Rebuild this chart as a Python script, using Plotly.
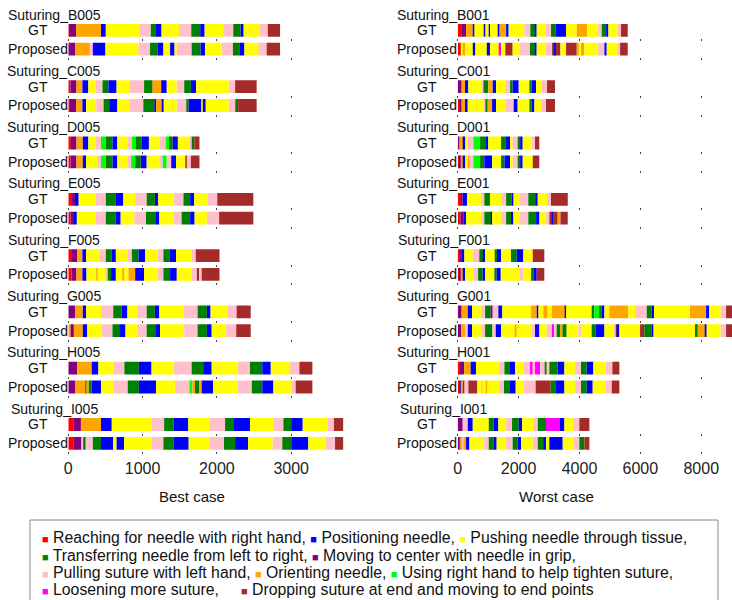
import plotly.graph_objects as go

W, H = 732, 600
FONT = "Liberation Sans, Arial, sans-serif"

# Gesture classes: code -> colour and name
COLOR = {
    "R": "#ff0000", "B": "#0000ff", "Y": "#ffff00", "G": "#008000", "P": "#800080",
    "K": "#ffc0cb", "O": "#ffa500", "L": "#00ff00", "M": "#ff00ff", "W": "#a52a2a",
}
NAMES = {
    "R": "Reaching for needle with right hand",
    "B": "Positioning needle",
    "Y": "Pushing needle through tissue",
    "G": "Transferring needle from left to right",
    "P": "Moving to center with needle in grip",
    "K": "Pulling suture with left hand",
    "O": "Orienting needle",
    "L": "Using right hand to help tighten suture",
    "M": "Loosening more suture",
    "W": "Dropping suture at end and moving to end points",
}

# ---- Best case trials: gesture labels and segment end frames ----
B005_GT_LABELS = ["R","P","O","B","Y","K","G","B","Y","K","G","B","Y","K","G","B","Y","K","W"]
B005_GT_ENDS = [15,105,440,505,955,1110,1180,1255,1490,1655,1775,1835,2085,2220,2320,2360,2580,2685,2850]
B005_PR_LABELS = ["P","O","K","B","Y","K","G","B","Y","B","Y","K","G","B","Y","K","G","B","Y","K","W"]
B005_PR_ENDS = [90,290,330,500,945,1100,1200,1280,1370,1430,1460,1660,1780,1840,2065,2215,2310,2370,2560,2670,2850]

C005_GT_LABELS = ["R","P","O","B","Y","K","G","B","Y","K","G","O","B","Y","K","G","B","Y","K","W"]
C005_GT_ENDS = [30,110,190,270,370,460,540,650,830,1020,1135,1250,1325,1460,1560,1650,1720,2160,2245,2535]
C005_PR_LABELS = ["R","P","O","B","Y","K","G","B","Y","K","G","B","O","B","Y","K","G","B","Y","B","Y","K","G","W"]
C005_PR_ENDS = [20,105,190,240,375,475,550,660,830,1010,1160,1180,1255,1285,1460,1595,1620,1795,1810,1850,2160,2260,2285,2535]

D005_GT_LABELS = ["R","P","O","B","Y","K","L","G","B","Y","K","L","G","B","Y","K","L","G","B","Y","K","G","W"]
D005_GT_ENDS = [35,110,195,270,370,440,505,595,660,800,855,905,990,1085,1225,1310,1355,1405,1475,1640,1660,1695,1765]
D005_PR_LABELS = ["R","P","O","B","Y","K","L","G","B","Y","K","L","G","B","Y","K","L","K","B","Y","W","K","W"]
D005_PR_ENDS = [30,110,195,240,390,440,505,595,660,800,845,900,975,1055,1225,1270,1325,1385,1450,1575,1595,1650,1765]

E005_GT_LABELS = ["R","P","B","Y","K","G","B","Y","K","G","B","Y","K","G","B","Y","K","W"]
E005_GT_ENDS = [50,90,140,370,505,640,740,900,1055,1165,1210,1415,1550,1640,1695,1870,2005,2490]
E005_PR_LABELS = ["R","P","B","Y","K","G","B","Y","K","G","B","Y","K","G","B","Y","K","W"]
E005_PR_ENDS = [30,65,115,370,505,640,705,890,1045,1170,1225,1415,1525,1640,1700,1865,2030,2490]

F005_GT_LABELS = ["R","P","O","B","Y","K","G","B","Y","K","G","B","Y","K","G","B","Y","K","W"]
F005_GT_ENDS = [50,120,190,240,425,505,585,640,795,855,945,1035,1205,1280,1360,1450,1660,1715,2035]
F005_PR_LABELS = ["R","P","O","B","Y","O","Y","K","G","B","Y","O","Y","O","B","Y","K","G","B","Y","K","W","K","W"]
F005_PR_ENDS = [45,110,190,245,380,395,505,530,575,640,740,755,810,900,1020,1205,1280,1370,1460,1660,1730,1760,1795,2035]

G005_GT_LABELS = ["P","O","B","Y","K","G","B","Y","K","G","B","Y","K","G","B","Y","K","W"]
G005_GT_ENDS = [90,195,240,440,605,720,795,930,1055,1165,1225,1550,1740,1865,1915,2140,2265,2455]
G005_PR_LABELS = ["O","P","O","B","Y","K","G","B","Y","K","G","B","Y","K","G","B","Y","K","W"]
G005_PR_ENDS = [30,75,195,255,450,595,685,770,930,1055,1170,1235,1560,1740,1865,1930,2125,2260,2455]

H005_GT_LABELS = ["P","O","B","Y","K","G","B","Y","K","G","B","Y","K","G","B","Y","K","W"]
H005_GT_ENDS = [120,315,405,615,755,950,1120,1420,1660,1815,1930,2280,2445,2610,2725,2985,3110,3285]
H005_PR_LABELS = ["P","O","G","O","G","B","Y","K","G","B","Y","K","L","O","G","O","B","Y","K","G","B","Y","K","W"]
H005_PR_ENDS = [90,235,250,275,315,440,615,800,950,1180,1435,1630,1670,1705,1765,1795,1950,2280,2470,2610,2760,3000,3060,3285]

I005_GT_LABELS = ["R","P","O","B","Y","K","G","B","Y","K","G","B","Y","K","G","B","Y","K","W"]
I005_GT_ENDS = [75,170,440,585,1120,1290,1415,1615,1900,2110,2230,2445,2760,2895,3000,3155,3485,3575,3700]
I005_PR_LABELS = ["R","P","K","G","K","G","B","Y","B","Y","K","G","B","Y","K","G","B","Y","K","G","B","Y","K","W"]
I005_PR_ENDS = [75,180,200,235,330,440,605,650,750,1120,1280,1420,1620,1900,2095,2245,2420,2750,2880,3000,3230,3465,3590,3700]

# ---- Worst case trials ----
B001_GT_LABELS = ["R","P","O","B","Y","B","Y","B","Y","B","O","B","Y","K","G","B","Y","K","G","B","Y","O","Y","K","G","B","Y","K","W"]
B001_GT_ENDS = [140,275,495,550,875,910,1020,1060,1315,1370,1590,1675,2190,2385,2550,2595,2900,3065,3210,3560,3910,4250,4620,4730,4875,4950,5255,5365,5585]
B001_PR_LABELS = ["R","Y","O","Y","B","Y","B","Y","M","Y","W","Y","K","G","B","Y","K","W","B","W","Y","W","O","Y","O","Y","K","B","Y","K","W"]
B001_PR_ENDS = [130,185,250,495,580,955,1060,1370,1425,1565,1805,2050,2375,2540,2595,2900,3100,3185,3230,3375,3560,3910,4000,4050,4160,4620,4820,4895,5280,5335,5585]

C001_GT_LABELS = ["P","O","B","Y","K","G","O","B","Y","K","G","B","Y","G","B","Y","K","W"]
C001_GT_ENDS = [130,240,350,800,845,1005,1150,1260,1565,1720,1805,2005,2355,2430,2575,2760,2935,3195]
C001_PR_LABELS = ["R","P","O","B","Y","K","G","O","B","Y","K","B","Y","G","B","Y","K","W"]
C001_PR_ENDS = [75,130,240,330,875,910,985,1130,1260,1565,1840,1970,2355,2430,2520,2740,2900,3195]

D001_GT_LABELS = ["P","O","B","Y","K","L","G","B","Y","G","B","Y","K","G","B","Y","K","W"]
D001_GT_ENDS = [55,195,250,330,515,735,930,1005,1425,1565,1720,1805,1970,2050,2135,2430,2540,2680]
D001_PR_LABELS = ["R","P","O","B","Y","O","K","L","G","B","Y","G","B","Y","K","G","B","Y","W"]
D001_PR_ENDS = [65,130,185,250,330,385,515,735,875,1130,1425,1535,1720,1805,1970,2050,2135,2465,2680]

E001_GT_LABELS = ["R","P","B","Y","K","G","Y","K","G","B","Y","K","G","B","Y","K","W"]
E001_GT_ENDS = [110,165,305,765,875,1060,1425,1590,1775,1830,2025,2320,2575,2630,2935,3065,3615]
E001_PR_LABELS = ["R","P","B","Y","K","G","B","Y","K","G","B","Y","K","G","B","Y","K","W","B","W","O","W"]
E001_PR_ENDS = [90,185,275,765,875,1095,1130,1425,1590,1750,1830,2050,2320,2575,2685,2900,3010,3120,3155,3285,3375,3615]

F001_GT_LABELS = ["R","P","B","Y","K","G","B","Y","G","B","Y","G","B","Y","W"]
F001_GT_ENDS = [75,140,220,495,710,845,900,1225,1290,1425,1750,1940,2155,2465,2845]
F001_PR_LABELS = ["R","P","O","B","Y","K","G","B","Y","G","B","Y","K","Y","G","B","W"]
F001_PR_ENDS = [65,130,175,240,515,670,820,900,1205,1280,1415,2025,2155,2410,2485,2595,2845]

G001_GT_LABELS = ["P","O","B","Y","K","G","P","K","B","Y","O","B","Y","O","Y","O","B","Y","G","L","G","B","Y","O","Y","K","G","B","Y","O","B","Y","K","W"]
G001_GT_ENDS = [130,330,470,765,900,1085,1150,1335,1465,2410,2595,2650,2815,2955,3090,3525,3560,4400,4490,4645,4730,4820,4980,5605,5825,6210,6375,6450,7630,8160,8255,8640,8815,9035]
G001_PR_LABELS = ["P","O","K","B","Y","K","G","K","B","Y","O","Y","K","B","Y","K","M","K","G","O","G","Y","K","Y","G","B","Y","K","W","B","Y","W","G","B","Y","G","O","B","Y","K","W"]
G001_PR_ENDS = [110,240,330,470,790,900,1140,1250,1425,1885,1940,2430,2540,2685,2925,3090,3165,3250,3360,3440,3580,3965,4075,4400,4535,4820,5115,5190,5255,5310,5990,6130,6375,6430,7795,7885,8125,8180,8640,8815,9035]

H001_GT_LABELS = ["R","P","O","B","Y","K","G","B","Y","K","M","K","M","K","G","K","G","B","Y","K","G","B","Y","K","W"]
H001_GT_ENDS = [55,210,425,600,1370,1535,1695,1885,2155,2375,2465,2540,2705,2870,2925,3010,3285,3505,3855,4050,4240,4455,4860,5080,5310]
H001_PR_LABELS = ["R","B","O","W","K","W","Y","O","Y","O","Y","K","G","B","Y","K","W","G","B","Y","K","G","B","Y","K","W"]
H001_PR_ENDS = [75,110,165,220,350,645,790,820,930,965,1370,1520,1695,1905,2180,2560,3055,3230,3505,3855,4050,4240,4435,4860,5060,5310]

I001_GT_LABELS = ["P","K","B","Y","G","B","Y","K","G","B","Y","K","G","M","B","Y","K","W"]
I001_GT_ENDS = [165,330,495,1020,1185,1335,1590,1785,2005,2115,2485,2630,2900,3360,3505,3800,3995,4325]
I001_PR_LABELS = ["P","O","K","O","B","Y","K","G","B","Y","K","G","B","Y","K","G","B","Y","B","Y","K","G","W"]
I001_PR_ENDS = [75,140,220,275,385,875,1020,1170,1280,1590,1805,1970,2080,2465,2630,2845,2900,3010,3450,3800,3995,4160,4325]

LEFT_TRIALS = ["B005", "C005", "D005", "E005", "F005", "G005", "H005", "I005"]
RIGHT_TRIALS = ["B001", "C001", "D001", "E001", "F001", "G001", "H001", "I001"]
LEFT_TICKS = [0, 1000, 2000, 3000]
RIGHT_TICKS = [0, 2000, 4000, 6000, 8000]

g = globals()
SEGMENTS = {
    (t, row): (g[f"{t}_{row}_LABELS"], g[f"{t}_{row}_ENDS"])
    for t in LEFT_TRIALS + RIGHT_TRIALS for row in ("GT", "PR")
}

# ---- layout geometry (pixels) ----
GROUP_STEP = 56.3
ROW_CENTERS = {"GT": 30.4, "PR": 49.2}
ROW_TEXT = {"GT": "GT", "PR": "Proposed"}
ROW_HALF = 8.0
TITLE_Y0 = 14.5

columns = [
    dict(trials=LEFT_TRIALS, x0=68.3, x1=343.6, xmax=3705, ticks=LEFT_TICKS,
         label="Best case", label_x=191.7),
    dict(trials=RIGHT_TRIALS, x0=457.7, x1=732.0, xmax=9010, ticks=RIGHT_TICKS,
         label="Worst case", label_x=556.0),
]

fig = go.Figure()
layout = {}
annotations = []
n = 0
for col in columns:
    for k, trial in enumerate(col["trials"]):
        for row in ("GT", "PR"):
            n += 1
            xa = "x" if n == 1 else f"x{n}"
            ya = "y" if n == 1 else f"y{n}"
            labels, ends = SEGMENTS[(trial, row)]
            starts = [0] + ends[:-1]
            widths = [e - s for s, e in zip(starts, ends)]
            fig.add_trace(go.Bar(
                orientation="h", y=[0] * len(widths), x=widths, base=starts,
                width=0.8, marker=dict(color=[COLOR[c] for c in labels], line=dict(width=0)),
                xaxis=xa, yaxis=ya, showlegend=False, hoverinfo="skip",
            ))
            c = ROW_CENTERS[row] + k * GROUP_STEP
            bottom = (k == len(col["trials"]) - 1 and row == "PR")
            layout["xaxis" if n == 1 else f"xaxis{n}"] = dict(
                domain=[col["x0"] / W, col["x1"] / W], range=[0, col["xmax"]],
                anchor=ya, tickvals=col["ticks"], ticks="outside", ticklen=2,
                tickwidth=1, tickcolor="#444", showticklabels=bottom,
                tickfont=dict(family=FONT, size=16, color="#222"),
                showgrid=False, zeroline=False, showline=False, fixedrange=True,
                automargin=False,
            )
            layout["yaxis" if n == 1 else f"yaxis{n}"] = dict(
                domain=[1 - (c + ROW_HALF) / H, 1 - (c - ROW_HALF) / H],
                range=[-0.5, 0.5], anchor=xa, visible=False, fixedrange=True,
                automargin=False,
            )
            annotations.append(dict(
                text=ROW_TEXT[row], x=(col["x0"] - 30.5) / W, y=1 - c / H,
                xref="paper", yref="paper", xanchor="center", yanchor="middle",
                showarrow=False, font=dict(family=FONT, size=14, color="#111"),
            ))
        annotations.append(dict(
            text=f"Suturing_{trial}", x=(col["x0"] - 14) / W,
            y=1 - (TITLE_Y0 + k * GROUP_STEP) / H, xref="paper", yref="paper",
            xanchor="center", yanchor="middle", showarrow=False,
            font=dict(family=FONT, size=14, color="#111"),
        ))
    annotations.append(dict(
        text=col["label"], x=col["label_x"] / W, y=1 - 496 / H,
        xref="paper", yref="paper", xanchor="center", yanchor="middle",
        showarrow=False, font=dict(family=FONT, size=15, color="#111"),
    ))

# ---- legend: framed box with four text rows ----
LEGEND_ROWS = [["R", "B", "Y"], ["G", "P"], ["K", "O", "L"], ["M", "W"]]
LEGEND_ROW_Y = [537, 555, 572.5, 589.5]
LEGEND_BOX = dict(x0=30, y0=520, x1=718, y1=602)

for r, codes in enumerate(LEGEND_ROWS):
    parts = []
    for i, code in enumerate(codes):
        last = (r == len(LEGEND_ROWS) - 1 and i == len(codes) - 1)
        sq = f'<span style="color:{COLOR[code]};font-size:11px">■</span>'
        parts.append(f"{sq} {NAMES[code]}" + ("" if last else ","))
    sep = " " + "&nbsp;" * 4 if r == len(LEGEND_ROWS) - 1 else " "
    annotations.append(dict(
        text=sep.join(parts), x=40 / W, y=1 - LEGEND_ROW_Y[r] / H,
        xref="paper", yref="paper", xanchor="left", yanchor="middle",
        align="left", showarrow=False,
        font=dict(family=FONT, size=15.8, color="#111"),
    ))

fig.add_shape(
    type="rect", xref="paper", yref="paper",
    x0=LEGEND_BOX["x0"] / W, x1=LEGEND_BOX["x1"] / W,
    y0=1 - LEGEND_BOX["y1"] / H, y1=1 - LEGEND_BOX["y0"] / H,
    line=dict(color="#888", width=1), fillcolor="rgba(0,0,0,0)", layer="below",
)

fig.update_layout(
    width=W, height=H, autosize=False,
    margin=dict(l=0, r=0, t=0, b=0, pad=0, autoexpand=False),
    paper_bgcolor="white", plot_bgcolor="white", barmode="overlay",
    annotations=annotations, showlegend=False, **layout,
)

fig.write_html("out.html")
